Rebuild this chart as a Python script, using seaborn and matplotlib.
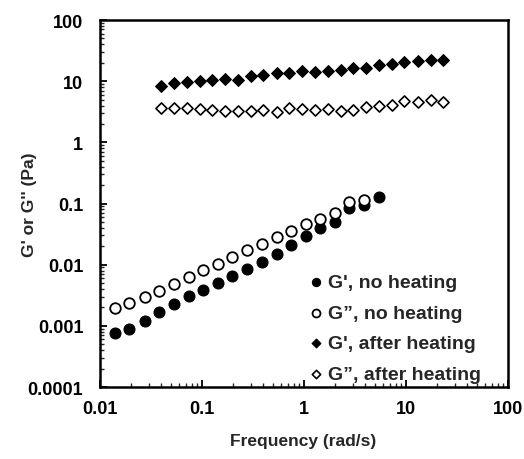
import numpy as np
import pandas as pd
import seaborn as sns
import matplotlib.pyplot as plt
from matplotlib.ticker import LogLocator, FixedLocator, FixedFormatter, NullFormatter

# frequency sweep, sample without heating (circles)
freq_no_heat = [0.0140, 0.0194, 0.0276, 0.0381, 0.0531, 0.0741, 0.102, 0.1435, 0.198, 0.274,
                0.387, 0.540, 0.746, 1.04, 1.43, 2.03, 2.78, 3.90, 5.47]
g1_no_heat = [0.00075, 0.00088, 0.00122, 0.00168, 0.00228, 0.00304, 0.00381, 0.00509, 0.00653, 0.00851,
              0.0111, 0.0148, 0.0213, 0.0299, 0.0399, 0.0500, 0.0859, 0.0937, 0.130]
g2_no_heat = [0.00199, 0.00233, 0.00292, 0.00371, 0.00491, 0.00639, 0.00819, 0.0104, 0.0134, 0.0172,
              0.0216, 0.0281, 0.0356, 0.0463, 0.0553, 0.0702, 0.104, 0.115]

# frequency sweep, sample after heating (diamonds)
freq_heat = [0.0394, 0.0531, 0.0718, 0.0955, 0.126, 0.168, 0.227, 0.300, 0.399, 0.539, 0.717, 0.955,
             1.29, 1.71, 2.29, 3.04, 4.06, 5.47, 7.24, 9.56, 13.0, 17.5, 23.2]
g1_heat = [8.41, 9.20, 9.56, 10.0, 10.3, 10.7, 10.5, 12.0, 12.6, 13.4, 13.7, 14.6,
           14.3, 14.8, 15.4, 16.2, 16.6, 18.6, 18.8, 20.8, 21.3, 22.2, 21.9]
g2_heat = [3.63, 3.67, 3.67, 3.49, 3.36, 3.24, 3.24, 3.28, 3.36, 3.08, 3.59, 3.45,
           3.36, 3.45, 3.20, 3.41, 3.77, 3.91, 4.01, 4.72, 4.60, 4.96, 4.55]

x_ticks = [0.01, 0.1, 1, 10, 100]
x_tick_labels = ['0.01', '0.1', '1', '10', '100']
y_ticks = [0.0001, 0.001, 0.01, 0.1, 1, 10, 100]
y_tick_labels = ['0.0001', '0.001', '0.01', '0.1', '1', '10', '100']

sns.set_style("ticks")
plt.rcParams['font.family'] = ['Liberation Sans', 'DejaVu Sans']
plt.rcParams['font.weight'] = 'bold'

fig = plt.figure(figsize=(5.24, 4.60), dpi=100)
ax = fig.add_axes([0.1908, 0.1565, 0.7787, 0.7978])

sns.scatterplot(x=freq_no_heat, y=g1_no_heat, marker='o', s=62, color='black',
                edgecolor='black', linewidth=0.8, label="G', no heating", ax=ax)
sns.scatterplot(x=freq_no_heat[:len(g2_no_heat)], y=g2_no_heat, marker='o', s=58,
                facecolor='white', edgecolor='black', linewidth=1.3,
                label="G\u201d, no heating", ax=ax)
sns.scatterplot(x=freq_heat, y=g1_heat, marker='D', s=36, color='black',
                edgecolor='black', linewidth=0.8, label="G', after heating", ax=ax)
sns.scatterplot(x=freq_heat, y=g2_heat, marker='D', s=32,
                facecolor='white', edgecolor='black', linewidth=1.2,
                label="G\u201d, after heating", ax=ax)

ax.set_xscale('log')
ax.set_yscale('log')
ax.set_xlim(0.01, 100)
ax.set_ylim(0.0001, 100)

ax.xaxis.set_major_locator(FixedLocator(x_ticks))
ax.xaxis.set_major_formatter(FixedFormatter(x_tick_labels))
ax.yaxis.set_major_locator(FixedLocator(y_ticks))
ax.yaxis.set_major_formatter(FixedFormatter(y_tick_labels))
ax.xaxis.set_minor_locator(LogLocator(base=10, subs=np.arange(2, 10), numticks=20))
ax.yaxis.set_minor_locator(LogLocator(base=10, subs=np.arange(2, 10), numticks=20))
ax.xaxis.set_minor_formatter(NullFormatter())
ax.yaxis.set_minor_formatter(NullFormatter())

ax.tick_params(which='major', direction='in', length=5, width=1.3, labelsize=13, colors='black')
ax.tick_params(which='minor', direction='in', length=3, width=1.0)
ax.tick_params(axis='x', which='major', pad=9)
ax.tick_params(axis='y', which='major', pad=12)
for lab in ax.get_xticklabels() + ax.get_yticklabels():
    lab.set_fontweight('bold')

for side in ['left', 'right', 'top', 'bottom']:
    ax.spines[side].set_visible(True)
    ax.spines[side].set_linewidth(1.8)
    ax.spines[side].set_color('black')

ax.set_xlabel('Frequency (rad/s)', fontsize=12.5, fontweight='bold')
ax.set_ylabel("G' or G'' (Pa)", fontsize=12.5, fontweight='bold')
ax.xaxis.set_label_coords(0.4975, -0.126)
ax.yaxis.set_label_coords(-0.155, 0.5)

ax.legend(loc='lower left', bbox_to_anchor=(0.51, 0.012), frameon=False,
          prop={'weight': 'bold', 'size': 14}, handlelength=0.8, handletextpad=0.2,
          labelspacing=0.66, borderaxespad=0, borderpad=0, markerscale=0.75)

fig.savefig('out.png', dpi=100)
